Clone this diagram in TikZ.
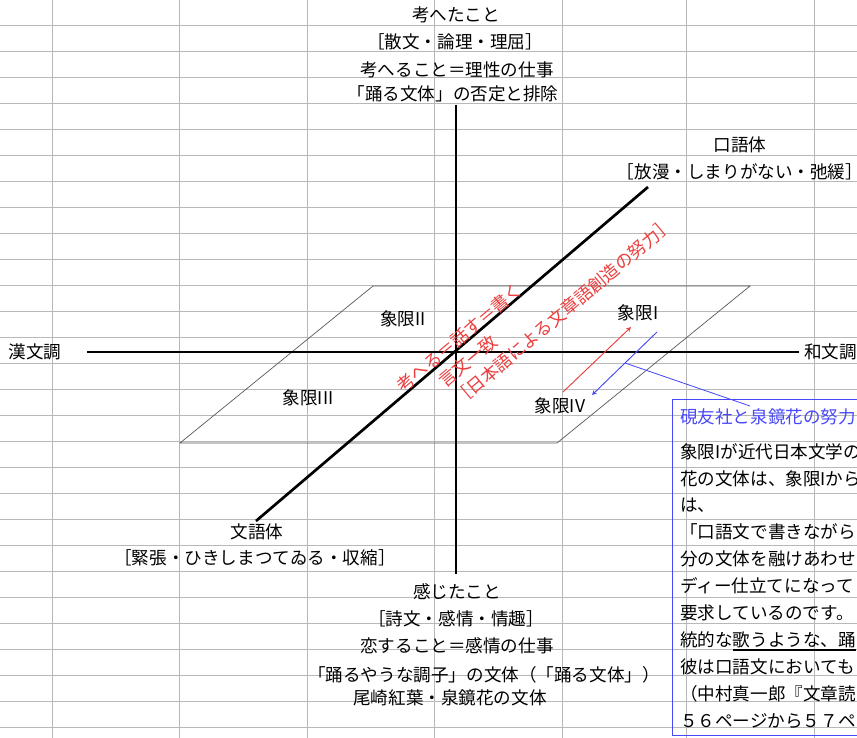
\documentclass[tikz,border=0pt]{standalone}
\usepackage{fontspec}
\setmainfont{Noto Sans CJK JP}
\newcommand{\thickuline}[1]{\setbox0\hbox{#1}\rlap{\rule[-0.24em]{\wd0}{1.6pt}}\box0}
\definecolor{penred}{RGB}{236,62,62}
\definecolor{penblue}{RGB}{72,72,248}
\begin{document}
\begin{tikzpicture}[x=0.03cm, y=-0.03cm,
        cell/.style = {draw=black!28, line width=0.8pt},
        axis/.style = {line width=2.3pt},
        plane/.style = {draw=black!65, line width=0.6pt},
        lbl/.style = {inner sep=0pt, font=\fontsize{15}{18}\selectfont},
        pointer/.style = {line width=0.8pt, -stealth}]
        \useasboundingbox (0,0) rectangle (857,738);
        \fill[white] (0,0) rectangle (857,738);
        \foreach \y in {25,51,...,727}
            \draw[cell] (0,\y) -- (857,\y);
        \foreach \x in {52,179,307,434,562,686,814}
            \draw[cell] (\x,0) -- (\x,738);

        \draw[plane] (373,286) -- (750,286) -- (557,443) -- (180,443) -- cycle;

        \coordinate (thinkend) at (456,105);
        \coordinate (feelend) at (456,574);
        \coordinate (kanbunend) at (87,352);
        \coordinate (wabunend) at (799,352);
        \coordinate (kougoend) at (648,187);
        \coordinate (bungoend) at (256,521);
        \draw[axis] (thinkend) -- (feelend);
        \draw[axis] (kanbunend) -- (wabunend);
        \draw[axis] (kougoend) -- (bungoend);

        \node[lbl] (thinkA) at (456,15) {考へたこと};
        \node[lbl] (thinkB) at (455,42) {［散文・論理・理屈］};
        \node[lbl] (thinkC) at (457,70) {考へること＝理性の仕事};
        \node[lbl] (thinkD) at (453,94) {「踊る文体」の否定と排除};
        \node[lbl] (kougoA) at (740,145) {口語体};
        \node[lbl] (kougoB) at (740,172) {［放漫・しまりがない・弛緩］};
        \node[lbl] (kanbun) at (35,352) {漢文調};
        \node[lbl, anchor=west] (wabun) at (804,352) {和文調};
        \node[lbl] (quadI) at (638,313) {象限I};
        \node[lbl] (quadII) at (403,319) {象限II};
        \node[lbl] (quadIII) at (308,398) {象限III};
        \node[lbl] (quadIV) at (560,406) {象限IV};
        \node[lbl] (bungoA) at (257,532) {文語体};
        \node[lbl] (bungoB) at (255,558) {［緊張・ひきしまつてゐる・収縮］};
        \node[lbl] (feelA) at (457,592) {感じたこと};
        \node[lbl] (feelB) at (456,619) {［詩文・感情・情趣］};
        \node[lbl] (feelC) at (457,646) {恋すること＝感情の仕事};
        \node[lbl] (feelD) at (484,675) {「踊るやうな調子」の文体（「踊る文体」）};
        \node[lbl] (feelE) at (450,698) {尾崎紅葉・泉鏡花の文体};

        \node[lbl, text=penred, rotate=40, align=left, font=\fontsize{15}{20}\selectfont] (genbun) at (535,305)
            {考へる＝話す＝書く\\　　言文一致\\　　［日本語による文章語創造の努力］};

        \coordinate (redtail) at (563,392);
        \coordinate (redhead) at (631,327);
        \coordinate (bluetail) at (657,332);
        \coordinate (bluehead) at (592,395);
        \coordinate (bluejoin) at (625,363);
        \coordinate (notetip) at (750,406);
        \draw[pointer, penred] (redtail) -- (redhead);
        \draw[pointer, penblue] (bluetail) -- (bluehead);
        \draw[penblue, line width=0.7pt] (bluejoin) -- (notetip);

        \node[draw=penblue, line width=0.8pt, minimum width=6.6cm, minimum height=10.08cm,
            anchor=north west, inner sep=0pt] (notebox) at (672,399) {};
        \node[lbl, text=penblue, anchor=west] (notetitle) at (680,417) {硯友社と泉鏡花の努力};
        \node[lbl, anchor=north west, align=left, font=\fontsize{15}{23}\selectfont] (notebody) at (680,443)
            {象限Iが近代日本文学の\\花の文体は、象限Iから\\は、\\「口語文で書きながら\\分の文体を融けあわせ\\ディー仕立てになって\\要求しているのです。\\統的な\thickuline{歌うような、踊}\\彼は口語文においても\\（中村真一郎『文章読\\５６ページから５７ペ};
\end{tikzpicture}
\end{document}
